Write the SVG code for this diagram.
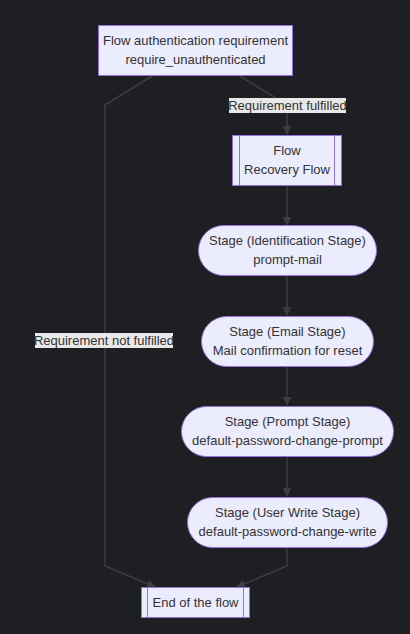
<svg xmlns="http://www.w3.org/2000/svg" width="410" height="634" viewBox="0 0 410 634">
<style>
.n{fill:#ECECFF;stroke:#9370DB;stroke-width:1}
.t{font-family:"Liberation Sans",Arial,sans-serif;font-size:13px;fill:#333;text-anchor:middle}
.e{fill:none;stroke:#3d3d40;stroke-width:1.5}
.lb{fill:#e8e8e8}
</style>
<defs>
<marker id="ah" viewBox="0 0 10 10" refX="9" refY="5" markerWidth="9" markerHeight="9" markerUnits="userSpaceOnUse" orient="auto">
<path d="M0,0L10,5L0,10z" fill="#3d3d40"/>
</marker>
</defs>
<rect width="410" height="634" fill="#1e1f22"/>
<g id="edges">
<path class="e" d="M152,76L105,105L105,566L155,587" marker-end="url(#ah)"/>
<path class="e" d="M240,76L287,105L287,134" marker-end="url(#ah)"/>
<path class="e" d="M287,186L287,225" marker-end="url(#ah)"/>
<path class="e" d="M287,276L287,315" marker-end="url(#ah)"/>
<path class="e" d="M287,367L287,405" marker-end="url(#ah)"/>
<path class="e" d="M287,457L287,496" marker-end="url(#ah)"/>
<path class="e" d="M287,547L287,566L237,587" marker-end="url(#ah)"/>
<rect class="lb" x="229" y="98" width="117" height="15"/>
<text class="t" x="287.5" y="110">Requirement fulfilled</text>
<rect class="lb" x="35" y="333" width="138" height="15"/>
<text class="t" x="104" y="345">Requirement not fulfilled</text>
</g>
<g id="req">
<rect class="n" x="98.5" y="25.5" width="194" height="50"/>
<text class="t" x="195.5" y="45">Flow authentication requirement</text>
<text class="t" x="195.5" y="64">require_unauthenticated</text>
</g>
<g id="flow">
<rect class="n" x="232.5" y="135.5" width="109" height="50"/>
<path class="n" d="M239.5,135.5V185.5M334.5,135.5V185.5"/>
<text class="t" x="287" y="155">Flow</text>
<text class="t" x="287" y="174">Recovery Flow</text>
</g>
<g id="s1">
<rect class="n" x="198.5" y="225.5" width="178" height="50" rx="25"/>
<text class="t" x="287.5" y="245">Stage (Identification Stage)</text>
<text class="t" x="287.5" y="264">prompt-mail</text>
</g>
<g id="s2">
<rect class="n" x="201.5" y="316.5" width="172" height="50" rx="25"/>
<text class="t" x="287.5" y="336">Stage (Email Stage)</text>
<text class="t" x="287.5" y="355">Mail confirmation for reset</text>
</g>
<g id="s3">
<rect class="n" x="181.5" y="406.5" width="212" height="50" rx="25"/>
<text class="t" x="287.5" y="426">Stage (Prompt Stage)</text>
<text class="t" x="287.5" y="445">default-password-change-prompt</text>
</g>
<g id="s4">
<rect class="n" x="187.5" y="497.5" width="200" height="50" rx="25"/>
<text class="t" x="287.5" y="517">Stage (User Write Stage)</text>
<text class="t" x="287.5" y="536">default-password-change-write</text>
</g>
<g id="end">
<rect class="n" x="141.5" y="587.5" width="108" height="30"/>
<path class="n" d="M147.5,587.5V617.5M243.5,587.5V617.5"/>
<text class="t" x="195.5" y="607">End of the flow</text>
</g>
</svg>
